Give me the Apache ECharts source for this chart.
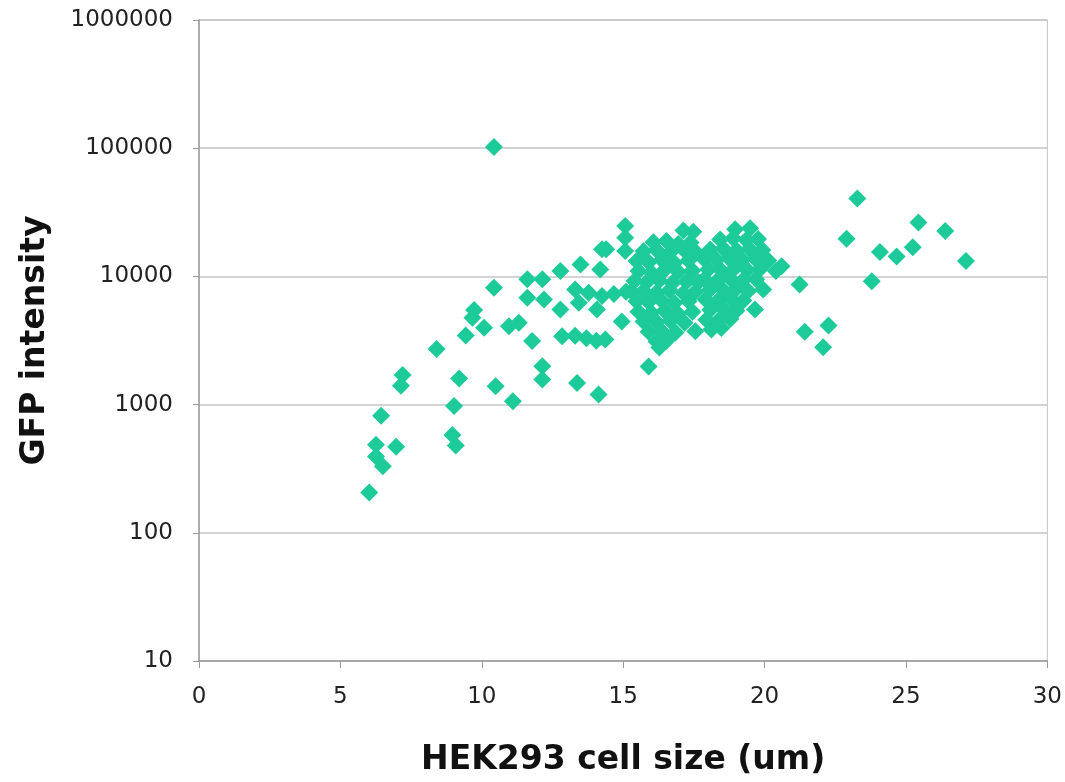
<!DOCTYPE html>
<html>
<head>
<meta charset="utf-8">
<script src="https://cdn.jsdelivr.net/npm/echarts@6/dist/echarts.min.js"></script>
<style>
html,body{margin:0;padding:0;background:#fff;}
#chart{width:1065px;height:782px;}
</style>
</head>
<body>
<div id="chart"></div>
<script>
// X tick values and Y tick labels
const xTicks = [0, 5, 10, 15, 20, 25, 30];
const yTicks = [10, 100, 1000, 10000, 100000, 1000000];

// [cell size (um), GFP intensity] pairs
const lowGroup = [
  [6.02,206],[6.44,820],[6.26,487],[6.97,470],[6.26,394],[6.50,330],
  [7.20,1700],[7.14,1400],[8.40,2720],[9.20,1600],[9.02,975],[8.96,580],
  [9.08,480],[10.49,1390],[9.43,3460],[10.08,3970],[10.43,8170],[9.73,5460],
  [9.67,4750],[10.43,102000],[11.10,1060],[10.96,4090],[11.31,4340],[11.78,3130]
];
const midGroup = [
  [11.61,9480],[12.14,9480],[11.61,6820],[12.20,6610],[12.78,5520],[12.78,11000],
  [13.49,12400],[14.25,16300],[14.19,11300],[12.14,1990],[12.14,1570],[13.37,1476],
  [14.13,1200],[12.84,3420],[13.30,3450],[13.70,3300],[14.05,3150],[14.37,3220],
  [13.30,7900],[13.78,7450],[14.25,7020],[13.43,6240],[14.07,5520],[14.67,7300],
  [15.10,7600],[15.07,24700],[15.07,20000],[15.07,15800],[15.90,1980],[14.95,4450],
  [14.40,16300]
];
const clusterA = [
  [17.13,22800],[17.48,22300],
  [16.07,18500],[16.53,18900],[16.95,17900],[17.38,18400],
  [15.72,15700],[16.18,16100],[16.67,15400],[17.17,15900],[17.59,15300],
  [15.47,13200],[15.90,12900],[16.36,13500],[16.81,12800],[17.31,13300],
  [15.54,11000],[16.00,10700],[16.46,11200],[16.95,10800],[17.45,11100],
  [15.40,9200],[15.83,9000],[16.28,9300],[16.74,8900],[17.24,9100],[17.66,9000],
  [15.30,7600],[15.72,7700],[16.18,7500],[16.64,7800],[17.13,7400],[17.55,7600],
  [15.47,6400],[15.90,6300],[16.36,6500],[16.81,6200],[17.31,6400],
  [15.54,5300],[16.00,5200],[16.46,5400],[16.95,5100],[17.45,5300],
  [15.72,4450],[16.18,4400],[16.67,4500],[17.17,4350],
  [15.90,3700],[16.36,3750],[16.85,3650],[17.55,3740],
  [16.18,3100],[16.53,3150],[16.28,2790]
];
const clusterB = [
  [18.96,23300],[19.49,23700],
  [18.43,19400],[18.89,19800],[19.35,19200],[19.77,19600],
  [18.08,16200],[18.54,16500],[19.00,16000],[19.46,16400],[19.92,16100],
  [17.87,13600],[18.30,13400],[18.75,13800],[19.21,13500],[19.67,13700],[20.13,13300],
  [18.01,11300],[18.47,11100],[18.93,11500],[19.39,11200],[19.84,11400],[20.40,11000],
  [17.87,9500],[18.33,9300],[18.79,9600],[19.25,9400],[19.70,9500],
  [18.08,7900],[18.54,7800],[19.00,8000],[19.42,7700],
  [17.91,6600],[18.36,6500],[18.82,6700],[19.25,6500],
  [18.08,5500],[18.54,5600],[19.00,5400],
  [17.94,4600],[18.36,4500],[18.79,4650],
  [18.12,3850],[18.47,3950]
];
const highGroup = [
  [20.60,12000],[19.95,7900],[19.66,5520],[21.24,8660],[21.42,3700],[22.26,4140],
  [22.07,2800],[22.90,19700],[23.28,40600],[23.79,9180],[24.08,15500],[24.67,14300],
  [25.24,16900],[25.44,26300],[26.39,22600],[27.12,13200]
];

const points = [].concat(lowGroup, midGroup, clusterA, clusterB, highGroup);

const chart = echarts.init(document.getElementById('chart'), null, {renderer: 'canvas'});
const font = 'DejaVu Sans, Verdana, sans-serif';
chart.setOption({
  backgroundColor: '#ffffff',
  animation: false,
  grid: {left: 199, right: 17, top: 20, bottom: 121, show: true, borderColor: '#c4c4c4', borderWidth: 1},
  xAxis: {
    type: 'value', min: xTicks[0], max: xTicks[xTicks.length - 1], interval: 5,
    name: 'HEK293 cell size (um)', nameLocation: 'middle', nameGap: 83,
    nameTextStyle: {fontFamily: font, fontSize: 33, fontWeight: 'bold', color: '#111'},
    axisLine: {show: true, lineStyle: {color: '#9a9a9a', width: 1.5}},
    axisTick: {show: true, length: 7, lineStyle: {color: '#9a9a9a'}},
    axisLabel: {margin: 25, fontFamily: font, fontSize: 23, color: '#222'},
    splitLine: {show: false}
  },
  yAxis: {
    type: 'log', logBase: 10, min: yTicks[0], max: yTicks[yTicks.length - 1],
    name: 'GFP intensity', nameLocation: 'middle', nameGap: 147,
    nameTextStyle: {fontFamily: font, fontSize: 33, fontWeight: 'bold', color: '#111'},
    axisLine: {show: true, lineStyle: {color: '#9a9a9a', width: 1.5}},
    axisTick: {show: true, length: 6, lineStyle: {color: '#9a9a9a'}},
    axisLabel: {margin: 26, fontFamily: font, fontSize: 23, color: '#222',
      formatter: v => String(Math.round(v))},
    splitLine: {show: true, lineStyle: {color: '#c4c4c4', width: 1.5}}
  },
  series: [{
    type: 'scatter',
    data: points,
    symbol: 'diamond',
    symbolSize: 18,
    itemStyle: {color: '#1ccb99', opacity: 1}
  }]
});
</script>
</body>
</html>
